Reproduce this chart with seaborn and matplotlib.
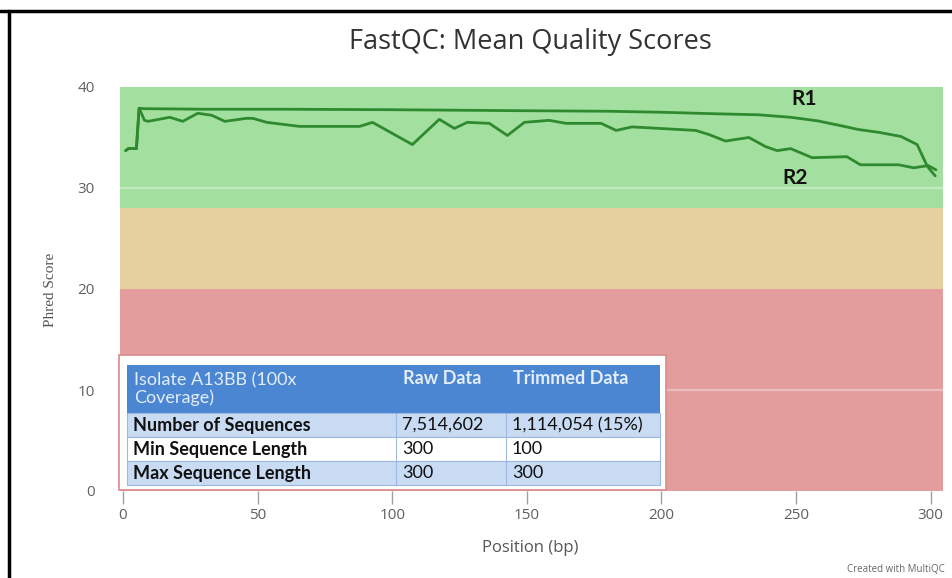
import matplotlib
matplotlib.use("Agg")
import matplotlib.pyplot as plt
import seaborn as sns
import pandas as pd
from matplotlib.lines import Line2D
from matplotlib.patches import Rectangle

# Mean Phred quality per read position
r1_pos = [1, 2, 3, 4, 5, 6, 8, 10, 30, 60, 100, 150, 180, 200, 220, 236, 248,
          258, 267, 273, 281, 289, 295, 298.5, 302]
r1_qual = [33.7, 33.9, 33.9, 33.9, 33.9, 37.9, 37.85, 37.85, 37.8, 37.8, 37.75,
           37.65, 37.6, 37.5, 37.35, 37.25, 37.0, 36.65, 36.15, 35.8, 35.5,
           35.1, 34.3, 32.3, 31.8]

r2_pos = [1, 2, 3, 4, 5, 6, 8, 9.3, 17.4, 22.2, 27.8, 33.0, 37.8, 46.0, 48.2,
          53.4, 65.6, 87.9, 92.7, 107.5, 117.5, 123.1, 127.9, 136.1, 142.8,
          149.1, 158.3, 164.6, 177.6, 183.2, 189.1, 212.7, 217.6, 223.8, 232.5,
          238.7, 243.0, 248.0, 256.0, 268.9, 273.9, 288.1, 293.7, 298.6, 301.7]
r2_qual = [33.7, 33.9, 33.9, 33.9, 33.9, 37.9, 36.7, 36.6, 37.0, 36.6, 37.4,
           37.2, 36.6, 36.9, 36.9, 36.5, 36.1, 36.1, 36.5, 34.3, 36.8, 35.9,
           36.5, 36.4, 35.2, 36.5, 36.7, 36.4, 36.4, 35.7, 36.05, 35.7, 35.3,
           34.65, 35.0, 34.1, 33.7, 33.9, 33.0, 33.1, 32.3, 32.3, 32.0, 32.2,
           31.2]

x_ticks = [0, 50, 100, 150, 200, 250, 300]
y_ticks = [0, 10, 20, 30, 40]

# Summary table
table_header = ["Isolate A13BB (100x\nCoverage)", "Raw Data", "Trimmed Data"]
table_rows = [
    ["Number of Sequences", "7,514,602", "1,114,054 (15%)"],
    ["Min Sequence Length", "300", "100"],
    ["Max Sequence Length", "300", "300"],
]

df = pd.concat([
    pd.DataFrame({"Position": r1_pos, "Quality": r1_qual, "Read": "R1"}),
    pd.DataFrame({"Position": r2_pos, "Quality": r2_qual, "Read": "R2"}),
])

sns.set_theme(style="white")
plt.rcParams["font.family"] = ["Open Sans", "DejaVu Sans"]

W, H = 952, 578
fig = plt.figure(figsize=(W / 100, H / 100), dpi=100)


def fx(px):
    return px / W


def fy(py):
    return 1 - py / H


ax = fig.add_axes([fx(120), fy(491), fx(943) - fx(120), fy(87) - fy(491)])

# quality zones
ax.axhspan(28, 40, color="#a3e0a0", lw=0, zorder=0)
ax.axhspan(20, 28, color="#e6d09f", lw=0, zorder=0)
ax.axhspan(0, 20, color="#e39d9d", lw=0, zorder=0)
for yv in [10, 30]:
    ax.axhline(yv, color="white", alpha=0.35, lw=1.6, zorder=1)

sns.lineplot(data=df, x="Position", y="Quality", units="Read", estimator=None,
             color="#2f8a2f", lw=2.0, ax=ax, legend=False, zorder=3, sort=False)

ax.set_xlim(-1.1, 304.6)
ax.set_ylim(0, 40)
ax.set_xticks(x_ticks)
ax.set_yticks(y_ticks)
ax.set_xticklabels([str(v) for v in x_ticks])
ax.tick_params(axis="x", bottom=True, length=9, width=1, color="#a0a0a0",
               direction="out", pad=3, labelsize=11, labelcolor="#606060")
ax.tick_params(axis="y", left=False, length=0, pad=18, labelsize=11,
               labelcolor="#606060")
for s in ax.spines.values():
    s.set_visible(False)
ax.set_xlabel("")
ax.set_ylabel("")

fig.text(fx(530), fy(42), "FastQC: Mean Quality Scores", ha="center",
         va="center", fontsize=19.5, color="#333333")
fig.text(fx(530), fy(548), "Position (bp)", ha="center", va="center",
         fontsize=12, color="#555555")
fig.text(fx(50), fy(290), "Phred Score", ha="center", va="center",
         rotation=90, fontsize=11, color="#555555", family="Liberation Serif")
fig.text(fx(945), fy(570), "Created with MultiQC", ha="right", va="center",
         fontsize=7, color="#666666")

ax.text(253, 38.8, "R1", fontsize=15, fontweight="bold", color="#111111",
        ha="center", va="center", zorder=5, family="Lato")
ax.text(249.5, 31.0, "R2", fontsize=15, fontweight="bold", color="#111111",
        ha="center", va="center", zorder=5, family="Lato")

# summary table drawn on top of the plot
def frect(x0, y0, x1, y1, **kw):
    fig.add_artist(Rectangle((fx(x0), fy(y1)), fx(x1) - fx(x0), fy(y0) - fy(y1),
                             transform=fig.transFigure, **kw))

frect(119, 355, 666, 490, facecolor="white", edgecolor="#d98a8a", lw=1.2, zorder=10)
cols = [127, 396, 506, 660]
frect(cols[0], 365, cols[3], 413, facecolor="#4a86d2", edgecolor="none", zorder=11)
row_edges = [413, 437, 461, 485]
row_colors = ["#c8dbf2", "#ffffff", "#c8dbf2"]
for i in range(3):
    frect(cols[0], row_edges[i], cols[3], row_edges[i + 1],
          facecolor=row_colors[i], edgecolor="#9db8de", lw=0.8, zorder=11)
    for c in [1, 2]:
        fig.add_artist(Line2D([fx(cols[c]), fx(cols[c])],
                              [fy(row_edges[i]), fy(row_edges[i + 1])],
                              color="#9db8de", lw=0.8, zorder=12,
                              transform=fig.transFigure))

hdr_y = [389, 379, 379]
for c, label in enumerate(table_header):
    fig.text(fx(cols[c] + 7), fy(hdr_y[c]), label, ha="left", va="center",
             fontsize=13, color="#e4edf9", family="Lato",
             fontweight="bold" if c > 0 else "normal", zorder=13,
             linespacing=1.05)
for i, row in enumerate(table_rows):
    yc = (row_edges[i] + row_edges[i + 1]) / 2
    for c, val in enumerate(row):
        fig.text(fx(cols[c] + 6), fy(yc), val, ha="left", va="center",
                 fontsize=13, color="#111111", family="Lato",
                 fontweight="bold" if c == 0 else "normal", zorder=13)

# frame around the figure
fig.add_artist(Line2D([0, 1], [fy(11), fy(11)], color="black", lw=2.5,
                      transform=fig.transFigure))
fig.add_artist(Line2D([fx(9), fx(9)], [fy(11), 0], color="black", lw=2.5,
                      transform=fig.transFigure))

fig.savefig("out.png", dpi=100)
